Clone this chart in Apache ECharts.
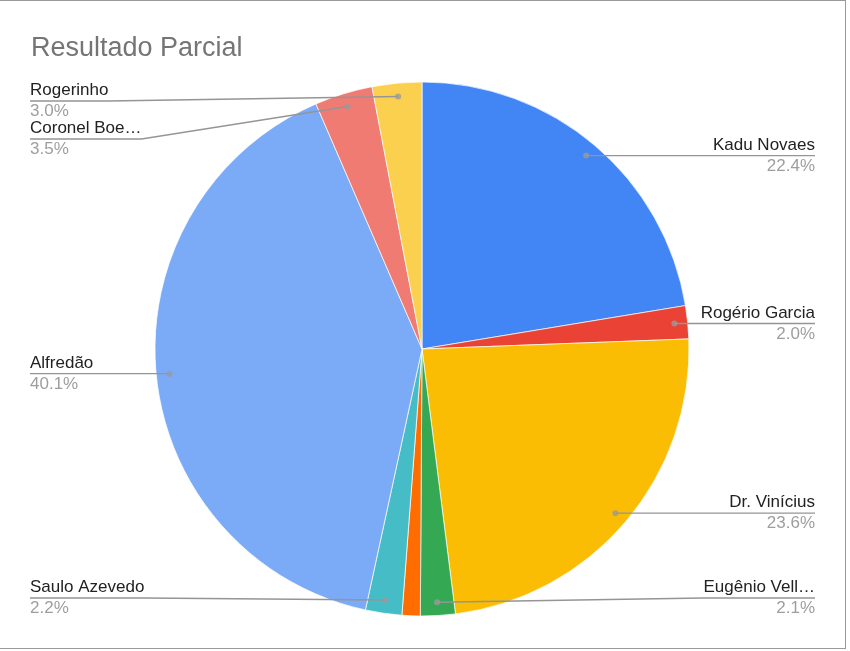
<!DOCTYPE html>
<html>
<head>
<meta charset="utf-8">
<script src="https://cdn.jsdelivr.net/npm/echarts@6/dist/echarts.min.js"></script>
<style>
html,body{margin:0;padding:0;background:#fff;}
#wrap{position:relative;width:850px;height:651px;overflow:hidden;}
#chart{position:absolute;left:0;top:0;width:850px;height:651px;}
#frame{position:absolute;left:-1px;top:0;width:846px;height:647px;border-top:1px solid #9a9a9a;border-right:1px solid #9a9a9a;border-bottom:1px solid #9a9a9a;pointer-events:none;}
</style>
</head>
<body>
<div id="wrap"><div id="chart"></div><div id="frame"></div></div>
<script>
const titleText = 'Resultado Parcial';
const names = ['Kadu Novaes','Rogério Garcia','Dr. Vinícius','Eugênio Vell…','Outro','Saulo Azevedo','Alfredão','Coronel Boe…','Rogerinho'];
const values = [22.4, 2.0, 23.6, 2.1, 1.1, 2.2, 40.1, 3.5, 3.0];
const colors = ['#4285F4','#EA4335','#FBBC04','#34A853','#FF6D01','#46BDC6','#7BAAF7','#F07B72','#FCD04F'];
const showLabel = [true, true, true, true, false, true, true, true, true];

const FONT = '"Liberation Sans", Arial, sans-serif';
const CX = 422, CY = 349, R = 267, DOT = 0.95;
const EDGE_L = 30, EDGE_R = 815;
const Y_MIN = 101, Y_MAX = 598, GAP = 38;

// mid angles (in percent of the circle) from data
const total = values.reduce((a, b) => a + b, 0);
const mids = [];
let acc = 0;
values.forEach(v => { mids.push((acc + v / 2) / total * 100); acc += v; });
const side = mids.map(m => m < 50 ? 'right' : 'left');
const dots = mids.map(m => {
  const a = m / 100 * 2 * Math.PI;
  return [CX + R * DOT * Math.sin(a), CY - R * DOT * Math.cos(a)];
});
// label line y: start at dot y, clamp, push apart per side
const lineY = dots.map(d => Math.min(Y_MAX, Math.max(Y_MIN, d[1])));
['left', 'right'].forEach(s => {
  const idx = values.map((v, i) => i).filter(i => showLabel[i] && side[i] === s).sort((a, b) => lineY[a] - lineY[b]);
  for (let k = 1; k < idx.length; k++) {
    if (lineY[idx[k]] < lineY[idx[k - 1]] + GAP) lineY[idx[k]] = lineY[idx[k - 1]] + GAP;
  }
});

const pieData = names.map((n, i) => ({ name: n, value: values[i], itemStyle: { color: colors[i] } }));
const labelData = names.map((n, i) => ({
  name: n, value: values[i],
  label: { show: showLabel[i] },
  labelLine: { show: showLabel[i] }
}));
const dotData = mids.map((m, i) => showLabel[i] ? [DOT, m] : null).filter(d => d);

const chart = echarts.init(document.getElementById('chart'), null, { renderer: 'canvas' });
chart.setOption({
  animation: false,
  backgroundColor: '#fff',
  title: {
    text: titleText, left: 31, top: 35, padding: 0,
    textStyle: { fontSize: 27, fontWeight: 'normal', color: '#757575', fontFamily: FONT }
  },
  polar: { center: [CX, CY], radius: R },
  angleAxis: { type: 'value', min: 0, max: 100, startAngle: 90, clockwise: true, show: false,
    axisLine: { show: false }, axisTick: { show: false }, axisLabel: { show: false }, splitLine: { show: false } },
  radiusAxis: { type: 'value', min: 0, max: 1, show: false,
    axisLine: { show: false }, axisTick: { show: false }, axisLabel: { show: false }, splitLine: { show: false } },
  series: [{
    type: 'pie', z: 2,
    center: [CX, CY], radius: R,
    startAngle: 90, clockwise: true,
    itemStyle: { borderColor: '#ffffff', borderWidth: 0.7 },
    emphasis: { disabled: true },
    label: { show: false },
    labelLine: { show: false },
    data: pieData
  }, {
    type: 'pie', z: 4,
    center: [CX, CY], radius: R,
    startAngle: 90, clockwise: true,
    avoidLabelOverlap: false,
    silent: true,
    itemStyle: { color: 'rgba(0,0,0,0)' },
    emphasis: { disabled: true },
    label: {
      show: true, position: 'outside',
      formatter: p => '{n|' + p.name + '}\n{p|' + p.percent.toFixed(1) + '%}',
      rich: {
        n: { fontSize: 17, color: '#222222', lineHeight: 21, fontFamily: FONT },
        p: { fontSize: 17, color: '#9e9e9e', lineHeight: 21, fontFamily: FONT }
      }
    },
    labelLine: { show: true, smooth: false, lineStyle: { color: '#959595', width: 1.4 } },
    labelLayout: function (params) {
      const i = params.dataIndex;
      if (!showLabel[i]) return {};
      const w = params.labelRect.width;
      const ly = lineY[i];
      if (side[i] === 'right') {
        return { x: EDGE_R, y: ly, align: 'right', verticalAlign: 'middle',
          labelLinePoints: [dots[i], [EDGE_R - w, ly], [EDGE_R, ly]] };
      }
      return { x: EDGE_L, y: ly, align: 'left', verticalAlign: 'middle',
        labelLinePoints: [dots[i], [EDGE_L + w, ly], [EDGE_L, ly]] };
    },
    data: labelData
  }, {
    type: 'scatter',
    coordinateSystem: 'polar',
    symbol: 'circle', symbolSize: 6,
    itemStyle: { color: '#9a9a9a' },
    silent: true, z: 6,
    data: dotData
  }]
});
</script>
</body>
</html>
